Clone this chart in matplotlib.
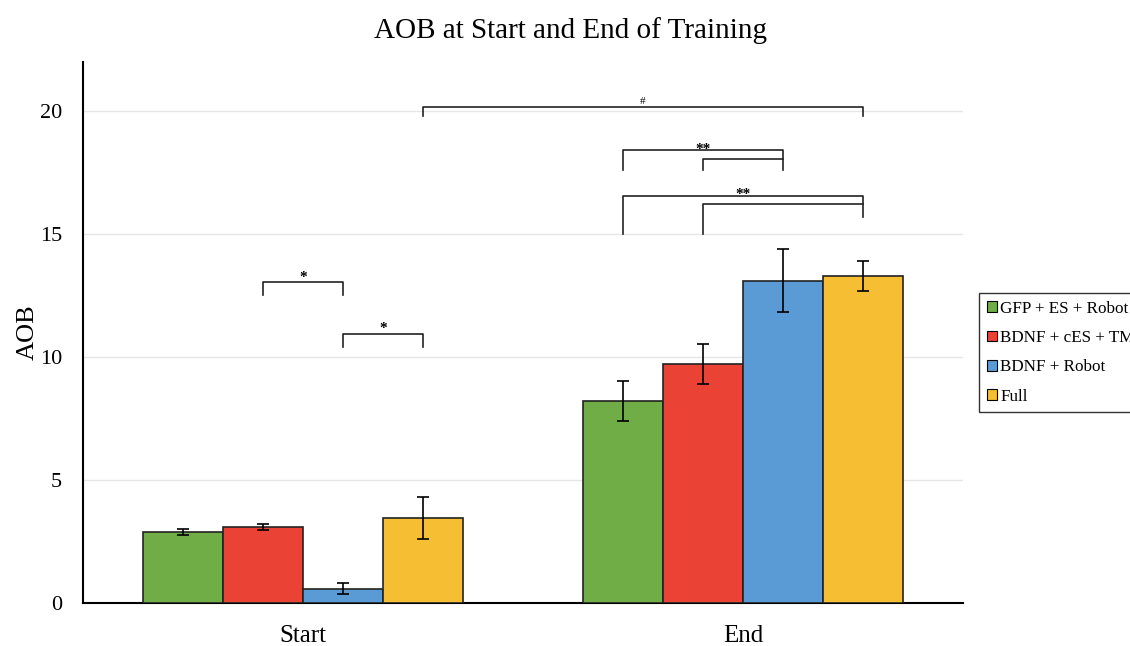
import matplotlib.pyplot as plt
import numpy as np

plt.rcParams['font.family'] = ['Liberation Serif', 'DejaVu Serif']

# AOB means and error bar half-widths per group and timepoint
timepoints = ["Start", "End"]
groups = ["GFP + ES + Robot", "BDNF + cES + TMS", "BDNF + Robot", "Full"]
colors = ["#70ad47", "#ea4335", "#5b9bd5", "#f6be33"]
means = [
    [2.88, 8.22],   # GFP + ES + Robot
    [3.09, 9.72],   # BDNF + cES + TMS
    [0.58, 13.10],  # BDNF + Robot
    [3.46, 13.30],  # Full
]
errors = [
    [0.13, 0.80],
    [0.14, 0.80],
    [0.23, 1.28],
    [0.85, 0.60],
]

fig = plt.figure(figsize=(11.3, 6.46), dpi=100)
ax = fig.add_axes([0.0735, 0.0666, 0.7787, 0.8374])

width = 0.1818
x = np.arange(len(timepoints))
offsets = (np.arange(len(groups)) - 1.5) * width

for i, g in enumerate(groups):
    ax.bar(x + offsets[i], means[i], width, color=colors[i], edgecolor="#222222",
           linewidth=1.2, label=g, zorder=3)
    ax.errorbar(x + offsets[i], means[i], yerr=errors[i], fmt="none",
                ecolor="black", elinewidth=1.2, capsize=4, capthick=1.2, zorder=4)

ax.set_xlim(-0.5, 1.5)
ax.set_ylim(0, 22)
ax.set_yticks([0, 5, 10, 15, 20])
ax.yaxis.grid(True, color="#e6e6e6", linewidth=1, zorder=0)
ax.set_axisbelow(True)
ax.set_xticks(x)
ax.set_xticklabels(timepoints, fontsize=18)
ax.tick_params(axis="x", length=0, pad=16)
ax.tick_params(axis="y", length=0, labelsize=16, pad=15)
for side in ["top", "right"]:
    ax.spines[side].set_visible(False)
ax.spines["left"].set_linewidth(1.5)
ax.spines["bottom"].set_linewidth(1.5)
ax.set_ylabel("AOB", fontsize=19)
ax.yaxis.set_label_coords(-0.05, 0.5)
fig.text(0.505, 0.953, "AOB at Start and End of Training", fontsize=21,
         ha="center", va="center")


def pos(t, g):
    return x[t] + offsets[g]


def bracket(t1, g1, t2, g2, top, left_end, right_end, draw_left=True):
    x1, x2 = pos(t1, g1), pos(t2, g2)
    xs, ys = [x1, x2, x2], [top, top, right_end]
    if draw_left:
        xs = [x1] + xs
        ys = [left_end] + ys
    ax.plot(xs, ys, color="#222222", linewidth=1.2, clip_on=False, zorder=5)


def mark(xc, yc, s, size=11):
    ax.text(xc, yc, s, ha="center", va="center", fontsize=size, fontweight="bold")


# Start group comparisons
bracket(0, 1, 0, 2, 13.05, 12.52, 12.52)
mark((pos(0, 1) + pos(0, 2)) / 2, 13.25, "*")
bracket(0, 2, 0, 3, 10.93, 10.41, 10.41)
mark((pos(0, 2) + pos(0, 3)) / 2, 11.15, "*")

# End group comparisons
bracket(1, 0, 1, 2, 18.41, 17.60, 17.60)
bracket(1, 1, 1, 2, 18.05, 17.60, 18.05)
mark(pos(1, 1), 18.45, "**")
bracket(1, 0, 1, 3, 16.54, 15.0, 15.69)
bracket(1, 1, 1, 3, 16.22, 15.0, 16.22)
mark(pos(1, 2) - width / 2, 16.6, "**")

# Start vs End for Full
bracket(0, 3, 1, 3, 20.16, 19.80, 19.80)
ax.text((pos(0, 3) + pos(1, 3)) / 2, 20.4, "#", ha="center", va="center", fontsize=8)

leg = ax.legend(loc="upper left", bbox_to_anchor=(1.018, 0.573), frameon=True,
                fancybox=False, edgecolor="black", fontsize=12.3, handlelength=0.6,
                handleheight=0.6, handletextpad=0.2, labelspacing=0.78,
                borderpad=0.45, borderaxespad=0)
leg.get_frame().set_linewidth(1.0)
for h in leg.legend_handles:
    h.set_edgecolor("black")
    h.set_linewidth(0.8)

fig.savefig("out.png", dpi=100)
